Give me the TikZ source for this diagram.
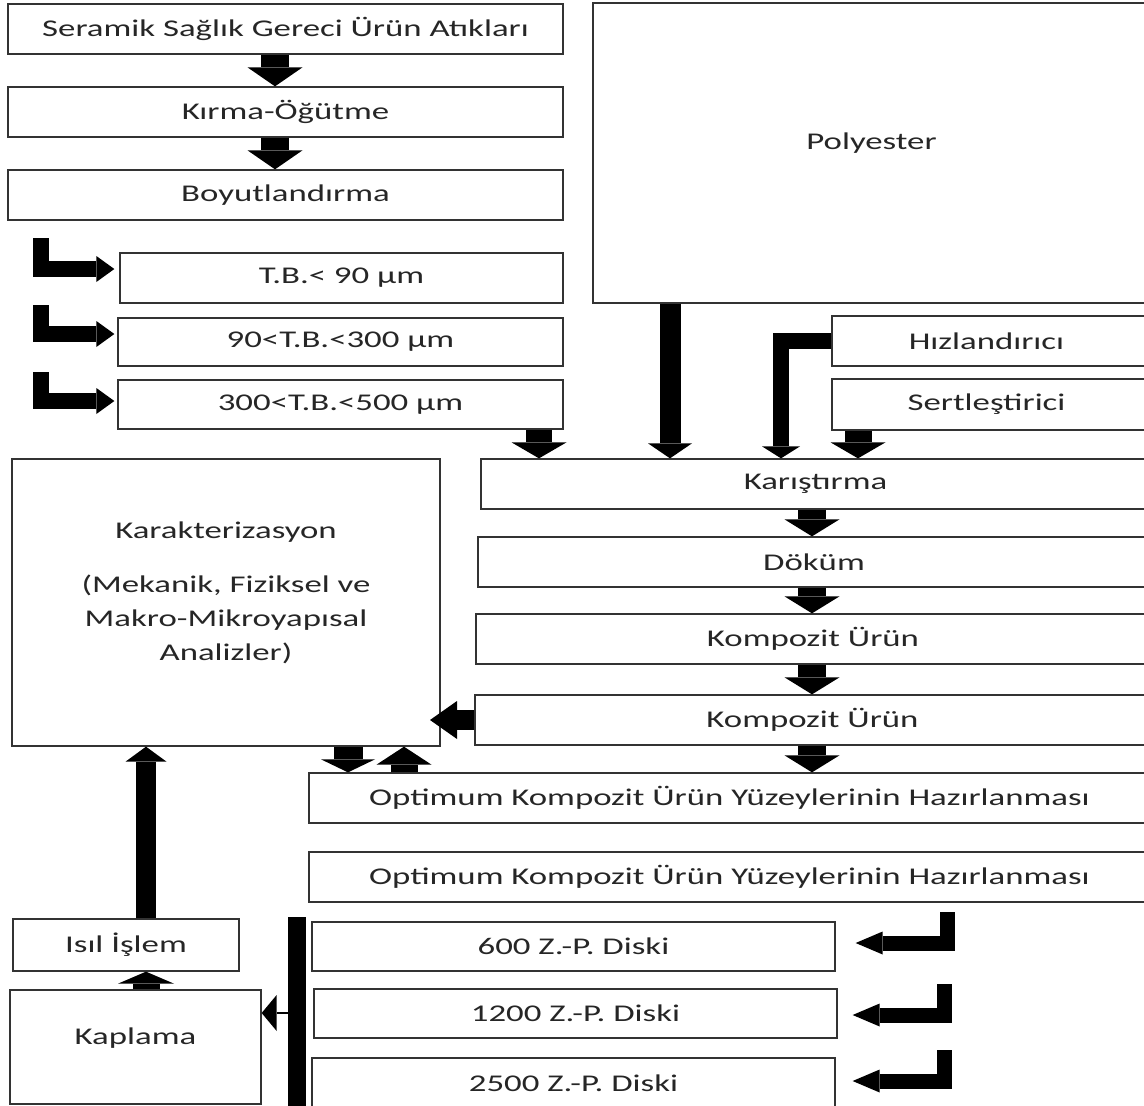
\documentclass[tikz,border=0pt]{standalone}
\usepackage{fontspec}
\setmainfont[FakeStretch=1.45]{Carlito}
\usetikzlibrary{arrows.meta}

\begin{document}
\begin{tikzpicture}[x=1pt,y=-1pt,
  every node/.style={font=\fontsize{24}{34}\selectfont,text=black!85},
  box/.style={draw=black!80,line width=1.3pt,inner sep=0pt,minimum height=50pt},
  blk/.style n args={3}{line width=#1,line join=miter,-{Triangle[width=#2,length=#3,line width=0pt]}}]
\useasboundingbox (0,0) rectangle (1144,1106);

% left column: waste processing
\node[box,minimum width=555pt] (seramik) at (285.5,29) {Seramik Sağlık Gereci Ürün Atıkları};
\node[box,minimum width=555pt] (kirma) at (285.5,112) {Kırma-Öğütme};
\node[box,minimum width=555pt] (boyut) at (285.5,195) {Boyutlandırma};
\node[box,minimum width=443pt] (tb1) at (341.5,278) {T.B.< 90 µm};
\node[box,minimum width=445pt,minimum height=48pt] (tb2) at (340.5,342) {90<T.B.<300 µm};
\node[box,minimum width=445pt,minimum height=49pt] (tb3) at (340.5,404.5) {300<T.B.<500 µm};

% right column: resin
\node[box,minimum width=557pt,minimum height=300pt,text depth=24pt] (poly) at (871.5,153) {Polyester};
\node[box,minimum width=318pt] (hiz) at (991,341) {\hspace*{-9pt}Hızlandırıcı};
\node[box,minimum width=318pt,minimum height=51pt] (sert) at (991,404.5) {\hspace*{-9pt}Sertleştirici};

% composite production
\node[box,minimum width=669pt] (karis) at (815.5,484) {Karıştırma};
\node[box,minimum width=672pt] (dokum) at (814,562) {Döküm};
\node[box,minimum width=674pt] (komp1) at (813,639) {Kompozit Ürün};
\node[box,minimum width=675pt] (komp2) at (812.5,720) {Kompozit Ürün};
\node[box,minimum width=841pt] (opt1) at (729.5,798) {Optimum Kompozit Ürün Yüzeylerinin Hazırlanması};
\node[box,minimum width=841pt] (opt2) at (729.5,877) {Optimum Kompozit Ürün Yüzeylerinin Hazırlanması};

\node[box,minimum width=428pt,minimum height=287pt,align=center,text depth=22pt] (karak) at (226,602.5)
  {Karakterizasyon\\[20pt](Mekanik, Fiziksel ve\\Makro-Mikroyapısal\\Analizler)};

% surface finishing
\node[box,minimum width=226pt,minimum height=52pt] (isil) at (126,945) {Isıl İşlem};
\node[box,minimum width=251pt,minimum height=114pt,text depth=22pt] (kapl) at (135.5,1047) {Kaplama};
\node[box,minimum width=523pt,minimum height=49pt] (d600) at (573.5,946.5) {600 Z.-P. Diski};
\node[box,minimum width=523pt,minimum height=49pt] (d1200) at (575.5,1013.5) {1200 Z.-P. Diski};
\node[box,minimum width=523pt] (d2500) at (573.5,1083) {2500 Z.-P. Diski};

% helper coordinates
\coordinate (colA) at (275,0);
\coordinate (colB) at (539,0);
\coordinate (colC) at (670,0);
\coordinate (colD) at (781,0);
\coordinate (colE) at (858,0);
\coordinate (colF) at (812,0);
\coordinate (colG) at (348,0);
\coordinate (colH) at (404,0);
\coordinate (colI) at (146,0);
\coordinate (colK) at (430,0);
\coordinate (l1) at (41,238);
\coordinate (l2) at (41,305);
\coordinate (l3) at (41,372);
\coordinate (r1) at (947,912);
\coordinate (r2) at (944,984);
\coordinate (r3) at (944,1050);
\coordinate (bustop) at (297,917);
\coordinate (busbot) at (297,1110);
\coordinate (busmid) at (297,1013);

\draw[blk={28pt}{55pt}{19pt}] (seramik.south -| colA) -- (kirma.north -| colA);
\draw[blk={28pt}{55pt}{19pt}] (kirma.south -| colA) -- (boyut.north -| colA);

\draw[blk={16pt}{26pt}{18pt}] (l1) |- ([xshift=-5pt,yshift=9pt]tb1.west);
\draw[blk={16pt}{26pt}{18pt}] (l2) |- ([xshift=-3pt,yshift=8pt]tb2.west);
\draw[blk={16pt}{26pt}{18pt}] (l3) |- ([xshift=-3pt,yshift=3.5pt]tb3.west);

\draw[blk={26pt}{55pt}{16pt}] (tb3.south -| colB) -- (karis.north -| colB);
\draw[blk={21pt}{44pt}{15pt}] (poly.south -| colC) -- (karis.north -| colC);
\draw[blk={16pt}{38pt}{12pt}] (hiz.west) -| (karis.north -| colD);
\draw[blk={27pt}{55pt}{16pt}] (sert.south -| colE) -- (karis.north -| colE);

\draw[blk={28pt}{55pt}{17pt}] (karis.south -| colF) -- (dokum.north -| colF);
\draw[blk={28pt}{55pt}{17pt}] (dokum.south -| colF) -- (komp1.north -| colF);
\draw[blk={28pt}{55pt}{17pt}] (komp1.south -| colF) -- (komp2.north -| colF);
\draw[blk={28pt}{55pt}{17pt}] (komp2.south -| colF) -- (opt1.north -| colF);

\draw[blk={20pt}{38pt}{27pt}] (komp2.west) -- (komp2.west -| colK);
\draw[blk={29pt}{54pt}{13pt}] (karak.south -| colG) -- (opt1.north -| colG);
\draw[blk={27pt}{55pt}{18pt}] (opt1.north -| colH) -- (karak.south -| colH);

\draw[blk={20pt}{41pt}{15pt}] (isil.north -| colI) -- (karak.south -| colI);
\draw[blk={27pt}{56pt}{12pt}] (kapl.north -| colI) -- (isil.south -| colI);

\draw[line width=18pt] (bustop) -- (busbot);
\draw[line width=1.5pt,-{Triangle[width=36pt,length=15pt,line width=0pt]}] (busmid) -- (busmid -| kapl.east);

\draw[blk={15pt}{23pt}{27pt}] (r1) |- ([xshift=20pt,yshift=3.5pt]d600.east);
\draw[blk={15pt}{23pt}{27pt}] (r2) |- ([xshift=15pt,yshift=-1.5pt]d1200.east);
\draw[blk={15pt}{23pt}{27pt}] (r3) |- ([xshift=17pt,yshift=2pt]d2500.east);
\end{tikzpicture}
\end{document}
